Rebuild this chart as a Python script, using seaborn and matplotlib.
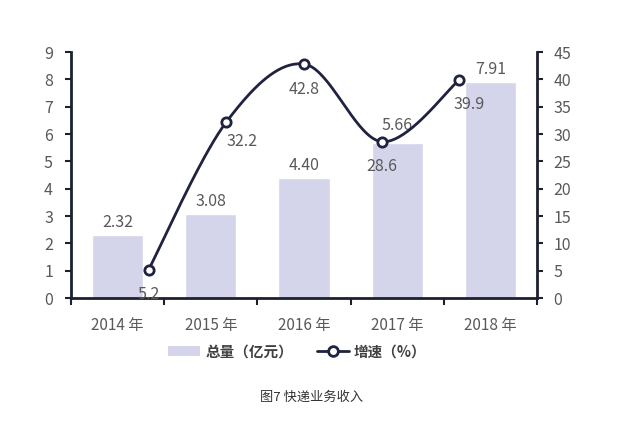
import numpy as np
import pandas as pd
import matplotlib
matplotlib.use('Agg')
import matplotlib.pyplot as plt
import seaborn as sns
from matplotlib.patches import Patch
from matplotlib.lines import Line2D

# ---- data ----
years = ['2014 年', '2015 年', '2016 年', '2017 年', '2018 年']
totals = [2.32, 3.08, 4.40, 5.66, 7.91]
total_labels = ['2.32', '3.08', '4.40', '5.66', '7.91']
growth = [5.2, 32.2, 42.8, 28.6, 39.9]
growth_labels = ['5.2', '32.2', '42.8', '28.6', '39.9']
legend_labels = ['总量（亿元）', '增速（%）']
caption = '图7 快递业务收入'

BAR = '#d4d4ea'
LINE = '#1f2340'
SPINE = '#1c2030'
TXT = '#595959'

sns.set_theme(style='white')
plt.rcParams['font.family'] = ['Noto Sans CJK SC', 'DejaVu Sans']

fig = plt.figure(figsize=(6.3, 4.23), dpi=100)
ax = fig.add_axes([71 / 630, 125 / 423, 466 / 630, 246 / 423])

df = pd.DataFrame({'year': years, 'total': totals})
sns.barplot(data=df, x='year', y='total', color=BAR, width=0.55,
            saturation=1, ax=ax)
ax.set_xlim(-0.5, len(years) - 0.5)
ax.set_ylim(0, 9)
ax.set_yticks(range(0, 10))
ax.set_xlabel('')
ax.set_ylabel('')

# category boundary ticks, labels at centers
n = len(years)
ax.set_xticks(np.arange(n + 1) - 0.5)
ax.set_xticklabels([])
ax.set_xticks(np.arange(n), minor=True)
ax.set_xticklabels(years, minor=True)
ax.tick_params(axis='x', which='major', direction='out', length=5, width=1.5,
               color=SPINE, bottom=True)
ax.tick_params(axis='x', which='minor', length=0, pad=13.5, labelsize=11,
               labelcolor=TXT)
ax.tick_params(axis='y', direction='out', length=4, width=1.5, color=SPINE,
               left=True, pad=9, labelsize=11.5, labelcolor=TXT)

for s in ['top', 'right']:
    ax.spines[s].set_visible(False)
for s in ['left', 'bottom']:
    ax.spines[s].set_color(SPINE)
    ax.spines[s].set_linewidth(2)

# bar labels
bar_off = [9, 9, 9, 13, 9]
for i, (v, lab) in enumerate(zip(totals, total_labels)):
    ax.annotate(lab, (i, v), xytext=(0, bar_off[i]), textcoords='offset points',
                ha='center', va='center', fontsize=11.5, color=TXT)

# secondary axis with growth line
ax2 = ax.twinx()
ax2.set_ylim(0, 45)
ax2.set_yticks(range(0, 50, 5))
ax2.tick_params(axis='y', direction='out', length=4, width=1.5, color=SPINE,
                right=True, pad=8, labelsize=11.5, labelcolor=TXT)
for s in ['top', 'left', 'bottom']:
    ax2.spines[s].set_visible(False)
ax2.spines['right'].set_color(SPINE)
ax2.spines['right'].set_linewidth(2)

# line points sit at k/(n+1) of the plot width
lx = -0.5 + np.arange(1, n + 1) * n / (n + 1)
ly = np.array(growth, dtype=float)


def smooth(xs, ys, steps=40):
    pts = np.column_stack([xs, ys])
    out = [pts[0]]
    m = len(pts)
    for i in range(m - 1):
        p0 = pts[max(i - 1, 0)]
        p1 = pts[i]
        p2 = pts[i + 1]
        p3 = pts[min(i + 2, m - 1)]
        c1 = p1 + (p2 - p0) / 6
        c2 = p2 - (p3 - p1) / 6
        t = np.linspace(0, 1, steps)[1:, None]
        seg = ((1 - t) ** 3) * p1 + 3 * ((1 - t) ** 2) * t * c1 + \
            3 * (1 - t) * t ** 2 * c2 + t ** 3 * p2
        out.extend(seg)
    out = np.array(out)
    return out[:, 0], out[:, 1]


sx, sy = smooth(lx, ly)
sns.lineplot(x=sx, y=sy, ax=ax2, color=LINE, linewidth=2, sort=False,
             estimator=None)
sns.scatterplot(x=lx, y=ly, ax=ax2, s=45, facecolor='white',
                edgecolor=LINE, linewidth=2, zorder=5)

line_off = [(0, -18), (11, -14), (0, -18), (0, -18), (7, -18)]
for i, (x, y, lab) in enumerate(zip(lx, ly, growth_labels)):
    ax2.annotate(lab, (x, y), xytext=line_off[i], textcoords='offset points',
                 ha='center', va='center', fontsize=11.5, color=TXT)
ax2.set_xlim(-0.5, n - 0.5)

# legend
handles = [Patch(facecolor=BAR, edgecolor='none'),
           Line2D([0], [0], color=LINE, lw=2, marker='o', mfc='white',
                  mec=LINE, ms=7, mew=2)]
fig.legend(handles, legend_labels, loc='center', bbox_to_anchor=(0.472, 0.170),
           ncol=2, frameon=False, handlelength=2.2, handletextpad=0.35,
           columnspacing=1.6, prop={'size': 10.5, 'weight': 'bold'},
           labelcolor='#404040')

fig.text(0.494, 1 - 397 / 423, caption, ha='center', va='center',
         fontsize=9.5, color='#333333')

fig.savefig('out.png', dpi=100)
